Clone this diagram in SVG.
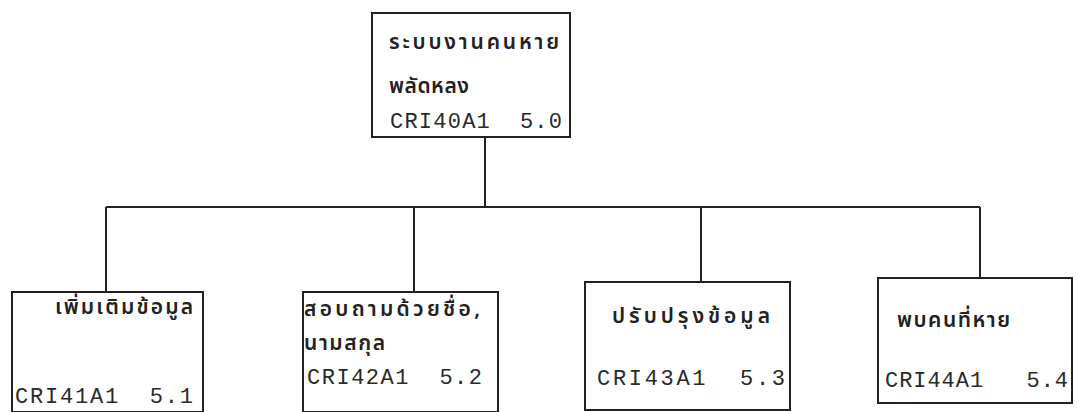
<svg xmlns="http://www.w3.org/2000/svg" width="1078" height="412" viewBox="0 0 1078 412">
<style>
.box{fill:none;stroke:#222;stroke-width:2}
.ln{fill:none;stroke:#222;stroke-width:2}
.t{font-family:"Liberation Mono","DejaVu Sans Mono",monospace;font-size:22px;fill:#2a2a2a;white-space:pre}
.th{font-family:"Noto Sans Thai","Noto Sans","DejaVu Sans",sans-serif;font-size:21px;font-weight:600;fill:#222}
</style>
<rect width="1078" height="412" fill="#fff"/>
<g id="connectors">
<path class="ln" d="M485 137V207"/>
<path class="ln" d="M106 207H980"/>
<path class="ln" d="M106 207V292"/>
<path class="ln" d="M414 207V292"/>
<path class="ln" d="M701 207V282"/>
<path class="ln" d="M980 207V278"/>
</g>
<g id="n50">
<rect class="box" x="372" y="13" width="198" height="124"/>
<text class="th" x="389" y="49" textLength="170" lengthAdjust="spacing">ระบบงานคนหาย</text>
<text class="th" x="389" y="93" textLength="80" lengthAdjust="spacing">พลัดหลง</text>
<text class="t" x="390" y="128" textLength="172" lengthAdjust="spacing" xml:space="preserve">CRI40A1  5.0</text>
</g>
<g id="n51">
<rect class="box" x="12" y="292" width="191" height="120"/>
<text class="th" x="55" y="314" textLength="138" lengthAdjust="spacing">เพิ่มเติมข้อมูล</text>
<text class="t" x="15" y="403" textLength="178" lengthAdjust="spacing" xml:space="preserve">CRI41A1  5.1</text>
</g>
<g id="n52">
<rect class="box" x="303" y="292" width="195" height="120"/>
<text class="th" x="304" y="316" textLength="176" lengthAdjust="spacing">สอบถามด้วยชื่อ,</text>
<text class="th" x="304" y="350" textLength="81" lengthAdjust="spacing">นามสกุล</text>
<text class="t" x="307" y="384" textLength="175" lengthAdjust="spacing" xml:space="preserve">CRI42A1  5.2</text>
</g>
<g id="n53">
<rect class="box" x="585" y="282" width="205" height="128"/>
<text class="th" x="612" y="323" textLength="158" lengthAdjust="spacing">ปรับปรุงข้อมูล</text>
<text class="t" x="597" y="385" textLength="188" lengthAdjust="spacing" xml:space="preserve">CRI43A1  5.3</text>
</g>
<g id="n54">
<rect class="box" x="878" y="278" width="194" height="125"/>
<text class="th" x="897" y="327" textLength="113" lengthAdjust="spacing">พบคนที่หาย</text>
<text class="t" x="885" y="387" textLength="183" lengthAdjust="spacing" xml:space="preserve">CRI44A1   5.4</text>
</g>
</svg>
